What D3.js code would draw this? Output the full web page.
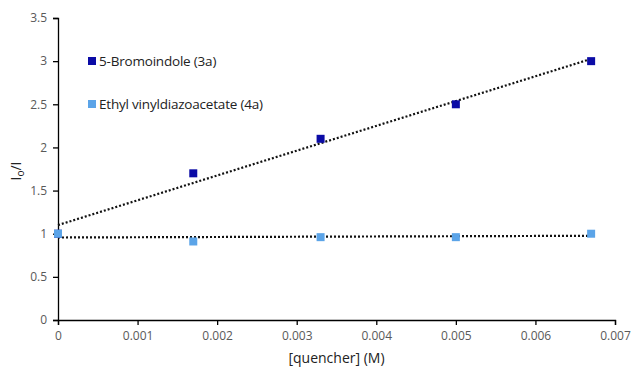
<!DOCTYPE html>
<html>
<head>
<meta charset="utf-8">
<script src="https://cdn.jsdelivr.net/npm/d3@7"></script>
<style>
  body { margin: 0; background: #fff; }
  text { font-family: "Open Sans", "Noto Sans", sans-serif; }
</style>
</head>
<body>
<div id="chart"></div>
<script>
// quencher concentrations (M)
const conc = [0, 0.0017, 0.0033, 0.005, 0.0067];
const bromoindole = [1.0, 1.7, 2.1, 2.5, 3.0];
const vinyldiazo = [1.0, 0.91, 0.96, 0.96, 1.0];
const seriesNames = ["5-Bromoindole (3a)", "Ethyl vinyldiazoacetate (4a)"];
const seriesColors = ["#0b0ba6", "#5ba4e8"];
const xTicks = [0, 0.001, 0.002, 0.003, 0.004, 0.005, 0.006, 0.007];
const yTicks = [0, 0.5, 1, 1.5, 2, 2.5, 3, 3.5];

const width = 632, height = 368;
const margin = { top: 18, right: 17, bottom: 48, left: 58 };

const svg = d3.select("#chart").append("svg")
  .attr("width", width)
  .attr("height", height);

const x = d3.scaleLinear().domain([0, 0.007]).range([margin.left, width - margin.right]);
const y = d3.scaleLinear().domain([0, 3.5]).range([height - margin.bottom, margin.top]);

// axes
const xAxis = svg.append("g")
  .attr("transform", "translate(0," + y(0) + ")")
  .call(d3.axisBottom(x).tickValues(xTicks).tickSize(5).tickPadding(6)
    .tickFormat(d => d === 0 ? "0" : d3.format(".3f")(d)));
const yAxis = svg.append("g")
  .attr("transform", "translate(" + x(0) + ",0)")
  .call(d3.axisLeft(y).tickValues(yTicks).tickSize(5).tickPadding(6)
    .tickFormat(d3.format("")));

[xAxis, yAxis].forEach(a => {
  a.select(".domain").attr("stroke", "#000").attr("stroke-width", 1.3);
  a.selectAll(".tick line").attr("stroke", "#000").attr("stroke-width", 1.3);
  a.selectAll(".tick text").attr("fill", "#595959").style("font-size", "12px");
});

// trendlines (least squares, like the spreadsheet's linear trendline)
function fit(xs, ys) {
  const mx = d3.mean(xs), my = d3.mean(ys);
  const sxy = d3.sum(xs, (v, i) => (v - mx) * (ys[i] - my));
  const sxx = d3.sum(xs, v => (v - mx) * (v - mx));
  const b = sxy / sxx;
  return { b: b, a: my - b * mx };
}

const allSeries = [bromoindole, vinyldiazo];
allSeries.forEach(vals => {
  const f = fit(conc, vals);
  const x0 = d3.min(conc), x1 = d3.max(conc);
  svg.append("line")
    .attr("x1", x(x0)).attr("y1", y(f.a + f.b * x0))
    .attr("x2", x(x1)).attr("y2", y(f.a + f.b * x1))
    .attr("stroke", "#111")
    .attr("stroke-width", 2.2)
    .attr("stroke-dasharray", "2,2");
});

// markers
const ms = 8;
allSeries.forEach((vals, s) => {
  svg.append("g").selectAll("rect")
    .data(vals.map((v, i) => [conc[i], v]))
    .enter().append("rect")
    .attr("x", d => x(d[0]) - ms / 2)
    .attr("y", d => y(d[1]) - ms / 2)
    .attr("width", ms).attr("height", ms)
    .attr("fill", seriesColors[s]);
});

// legend
const legend = svg.append("g");
seriesNames.forEach((name, i) => {
  const ly = 61 + i * 43;
  legend.append("rect")
    .attr("x", 88).attr("y", ly - 4).attr("width", 8).attr("height", 8)
    .attr("fill", seriesColors[i]);
  legend.append("text")
    .attr("x", 99).attr("y", ly + 4.5)
    .style("font-size", "13.5px").style("letter-spacing", "-0.2px").attr("fill", "#222")
    .text(name);
});

// axis titles
svg.append("text")
  .attr("x", (x(0) + x(0.007)) / 2).attr("y", 363)
  .attr("text-anchor", "middle")
  .style("font-size", "14px").attr("fill", "#222")
  .text("[quencher] (M)");

const yt = svg.append("text")
  .attr("transform", "translate(21," + (y(1.75) + 2) + ") rotate(-90)")
  .attr("text-anchor", "middle")
  .style("font-size", "14px").attr("fill", "#222");
yt.append("tspan").text("I");
yt.append("tspan").attr("dy", 3).style("font-size", "10px").text("o");
yt.append("tspan").attr("dy", -3).text("/I");
</script>
</body>
</html>
